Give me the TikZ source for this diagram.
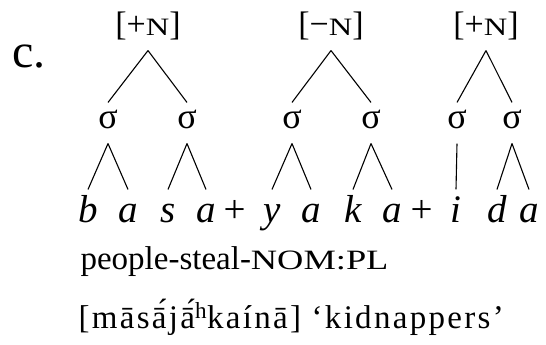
\documentclass[tikz,border=0pt]{standalone}
\usepackage{fontspec}
\setmainfont{Liberation Serif}
\newfontfamily\scfont[FakeStretch=1.3]{Liberation Serif}
\newfontfamily\widefont[LetterSpace=7]{Liberation Serif}
\usepackage{tikz}

\newcommand{\smc}[2][25]{{\scfont\fontsize{#1}{#1}\selectfont #2}}

\begin{document}
\begin{tikzpicture}[x=1pt,y=-1pt,line width=1.1pt,
  feat/.style={font=\fontsize{34}{34}\selectfont,inner sep=0pt,anchor=base,text depth=14pt},
  syl/.style={font=\fontsize{36}{36}\selectfont,inner sep=0pt,anchor=base,text height=25pt,text depth=15pt},
  seg/.style={font=\fontsize{39}{39}\selectfont\itshape,inner sep=0pt,anchor=base,text height=32pt}]
\useasboundingbox (0,0) rectangle (546,345);
\node[anchor=base west,inner sep=0pt,font=\fontsize{48}{48}\selectfont] (ex) at (12,67) {c.};
\node[feat] (n1) at (148,36) {[+\smc{N}]};
\node[feat] (n2) at (331,36) {[−\smc{N}]};
\node[feat] (n3) at (486,36) {[+\smc{N}]};
\node[syl] (s1) at (108,128) {σ};
\node[syl] (s2) at (187,128) {σ};
\node[syl] (s3) at (292,128) {σ};
\node[syl] (s4) at (371,128) {σ};
\node[syl] (s5) at (457,128) {σ};
\node[syl] (s6) at (512,128) {σ};
\node[seg] (b) at (88,222) {b};
\node[seg] (a1) at (128,222) {a};
\node[seg] (s) at (168,222) {s};
\node[seg] (a2) at (206,222) {a};
\node[seg] (p1) at (235,222) {+};
\node[seg] (y) at (272,222) {y};
\node[seg] (a3) at (311,222) {a};
\node[seg] (k) at (353,222) {k};
\node[seg] (a4) at (392,222) {a};
\node[seg] (p2) at (422,222) {+};
\node[seg] (i) at (456,222) {i};
\node[seg] (d) at (497,222) {d};
\node[seg] (a5) at (529,222) {a};
\node[anchor=base west,inner sep=0pt,font=\fontsize{33}{33}\selectfont] (gl) at (80,269) {people-steal-\smc[28]{NOM:PL}};
\node[anchor=base west,inner sep=0pt,font=\widefont\fontsize{33}{33}\selectfont] (tr) at (78,328) {[māsā́jā́\textsuperscript{h}kaínā] ‘kidnappers’};
\draw (n1.south)--(s1.north);
\draw (n1.south)--(s2.north);
\draw (n2.south)--(s3.north);
\draw (n2.south)--(s4.north);
\draw (n3.south)--(s5.north);
\draw (n3.south)--(s6.north);
\draw (s1.south)--(b.north);
\draw (s1.south)--(a1.north);
\draw (s2.south)--(s.north);
\draw (s2.south)--(a2.north);
\draw (s3.south)--(y.north);
\draw (s3.south)--(a3.north);
\draw (s4.south)--(k.north);
\draw (s4.south)--(a4.north);
\draw (s5.south)--(i.north);
\draw (s6.south)--(d.north);
\draw (s6.south)--(a5.north);
\end{tikzpicture}
\end{document}
